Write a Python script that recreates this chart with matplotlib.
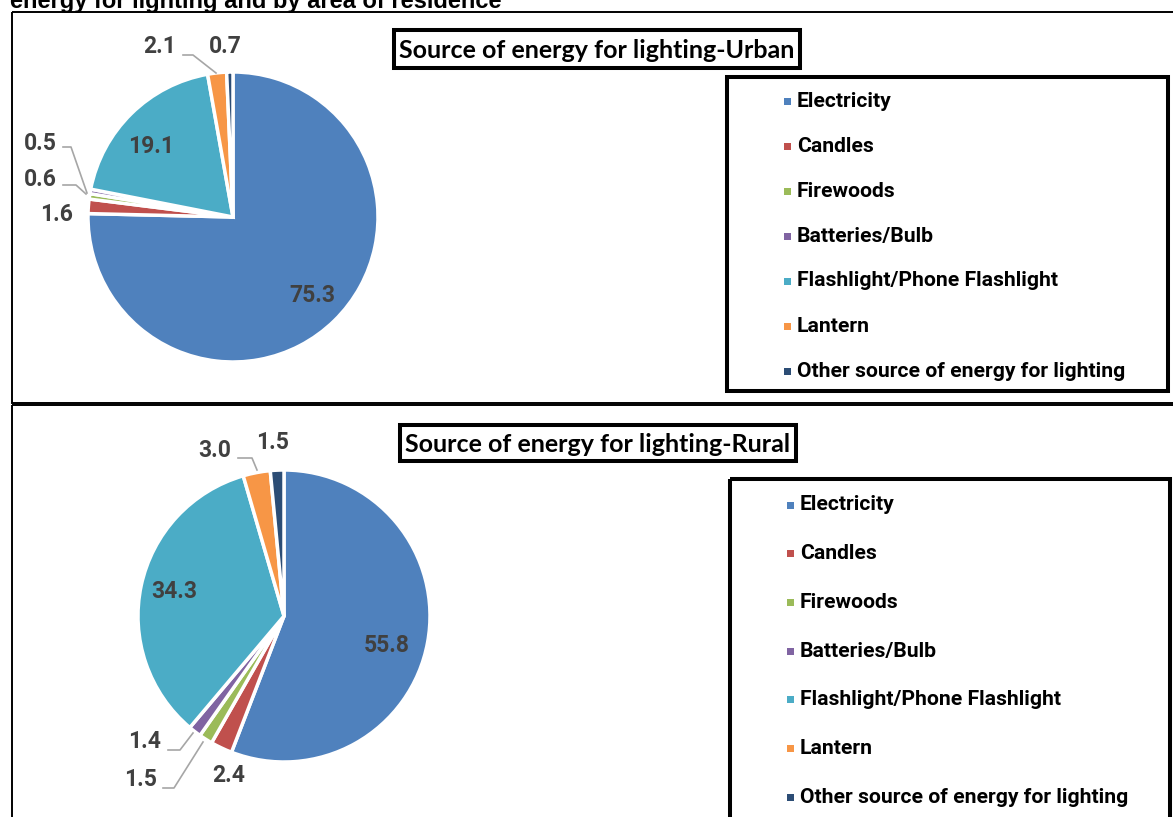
import matplotlib.pyplot as plt
from matplotlib.patches import Rectangle

# data
categories = ["Electricity", "Candles", "Firewoods", "Batteries/Bulb",
              "Flashlight/Phone Flashlight", "Lantern",
              "Other source of energy for lighting"]
urban = [75.3, 1.6, 0.6, 0.5, 19.1, 2.1, 0.7]
rural = [55.8, 2.4, 1.5, 1.4, 34.3, 3.0, 1.5]
colors = ["#4F81BD", "#C0504D", "#9BBB59", "#8064A2", "#4BACC6", "#F79646", "#2C4D75"]

W, H = 1173, 817
fig = plt.figure(figsize=(W / 100, H / 100), dpi=100)

# overlay axes in pixel coords (y down), drawn above the pies
ov = fig.add_axes([0, 0, 1, 1])
ov.set_xlim(0, W)
ov.set_ylim(H, 0)
ov.axis("off")
ov.set_zorder(10)

lab_font = dict(family="Roboto", weight="bold", color="#404040", fontsize=16.5)
leg_font = dict(family="Roboto", weight="bold", color="black", fontsize=15.2)
ttl_font = dict(family="Lato", weight="bold", color="black", fontsize=18)

# cut-off heading at the very top
ov.text(10, 8, "energy for lighting and by area of residence", fontsize=17,
        family="Liberation Sans", weight="bold", va="baseline", ha="left")

# panel frames
ov.add_patch(Rectangle((12, 12), 1180, 391, fill=False, lw=1.4, ec="black"))
ov.add_patch(Rectangle((12, 405), 1180, 430, fill=False, lw=1.4, ec="black"))

# title boxes
for (x0, y0, x1, y1), txt in [((394, 30, 800, 68), "Source of energy for lighting-Urban"),
                              ((400, 425, 796, 461), "Source of energy for lighting-Rural")]:
    ov.add_patch(Rectangle((x0, y0), x1 - x0, y1 - y0, fill=False, lw=2.9, ec="black"))
    ov.text((x0 + x1) / 2, (y0 + y1) / 2 + 1, txt, ha="center", va="center", **ttl_font)

# legend boxes
for (x0, y0, x1, y1), ys in [((727, 77, 1168, 391), [101 + 45 * i for i in range(7)]),
                             ((730, 479, 1170, 840), [505 + 48.7 * i for i in range(7)])]:
    ov.add_patch(Rectangle((x0, y0), x1 - x0, y1 - y0, fill=False, lw=2.9, ec="black"))
    mx = x0 + 57
    for name, c, y in zip(categories, colors, ys):
        ov.add_patch(Rectangle((mx, y - 3.5), 7, 7, color=c, lw=0))
        ov.text(mx + 13, y, name, ha="left", va="center", **leg_font)


def pie_panel(vals, cx, cy, r, label_px, leaders):
    ax = fig.add_axes([(cx - r) / W, (H - cy - r) / H, 2 * r / W, 2 * r / H])
    ax.pie(vals, colors=colors, startangle=90, counterclock=False,
           wedgeprops=dict(edgecolor="white", linewidth=2.5))
    ax.set_xlim(-1, 1)
    ax.set_ylim(-1, 1)
    ax.axis("off")
    for v, (lx, ly) in zip(vals, label_px):
        ov.text(lx, ly, f"{v:.1f}", ha="center", va="center", zorder=5, **lab_font)
    for pts in leaders:
        xs, ys = zip(*pts)
        ov.plot(xs, ys, color="#A6A6A6", lw=1.2, zorder=5)


pie_panel(urban, 233, 217, 145,
          [(312, 295), (57, 214), (40, 179), (40, 143), (151, 146), (160, 46), (225, 46)],
          [[(63, 147), (71, 147), (87, 193)],
           [(63, 185), (76, 185), (86, 194)],
           [(183, 55), (193, 55), (216, 73)]])

pie_panel(rural, 284, 616, 146,
          [(387, 645), (229, 775), (140, 780), (145, 742), (174, 591), (215, 450), (273, 442)],
          [[(238, 458), (252, 458), (257, 470)],
           [(168, 750), (180, 750), (193, 733)],
           [(163, 788), (174, 788), (203, 742)]])

fig.savefig("out.png", dpi=100)
